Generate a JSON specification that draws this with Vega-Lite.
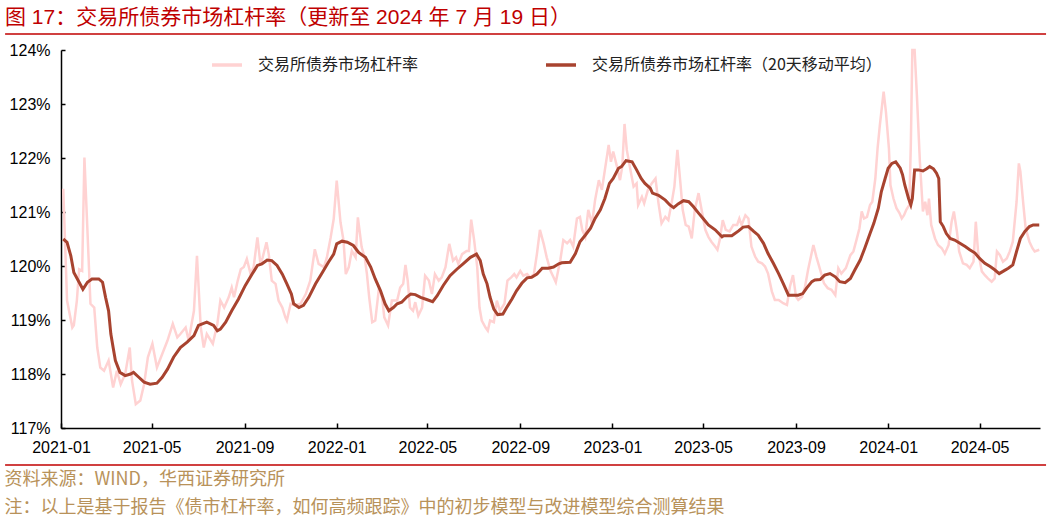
{
  "$schema": "https://vega.github.io/schema/vega-lite/v6.json",
  "autosize": {"type": "none"},
  "padding": {"left": 61, "top": 50, "right": 13, "bottom": 95},
  "width": 979,
  "height": 378,
  "background": "white",
  "config": {"view": {"stroke": null}},
  "title": {
    "text": "图 17：交易所债券市场杠杆率（更新至 2024 年 7 月 19 日）",
    "anchor": "start", "frame": "group", "dx": -56, "offset": 3,
    "font": "Liberation Sans, Noto Sans CJK SC", "fontSize": 21, "fontWeight": "normal", "color": "#C00000"
  },
  "datasets": {
    "raw": [
      {"d":"2021-01-04","v":121.43},{"d":"2021-01-09","v":119.36},{"d":"2021-01-16","v":118.86},{"d":"2021-01-18","v":118.90},{"d":"2021-01-22","v":119.36},{"d":"2021-01-25","v":119.94},{"d":"2021-01-29","v":119.91},{"d":"2021-02-01","v":122.01},{"d":"2021-02-09","v":119.30},{"d":"2021-02-14","v":119.23},{"d":"2021-02-18","v":118.49},{"d":"2021-02-22","v":118.12},{"d":"2021-02-27","v":118.06},{"d":"2021-03-05","v":118.25},{"d":"2021-03-11","v":117.75},{"d":"2021-03-16","v":118.06},{"d":"2021-03-21","v":117.81},{"d":"2021-03-27","v":118.00},{"d":"2021-04-02","v":118.49},{"d":"2021-04-05","v":117.88},{"d":"2021-04-10","v":117.44},{"d":"2021-04-16","v":117.51},{"d":"2021-04-21","v":117.81},{"d":"2021-04-26","v":118.31},{"d":"2021-05-02","v":118.56},{"d":"2021-05-08","v":118.12},{"d":"2021-05-15","v":118.37},{"d":"2021-05-22","v":118.62},{"d":"2021-05-29","v":118.93},{"d":"2021-06-04","v":118.68},{"d":"2021-06-08","v":118.74},{"d":"2021-06-15","v":118.86},{"d":"2021-06-19","v":118.62},{"d":"2021-06-26","v":119.17},{"d":"2021-06-30","v":120.19},{"d":"2021-07-05","v":118.86},{"d":"2021-07-09","v":118.49},{"d":"2021-07-13","v":118.74},{"d":"2021-07-21","v":118.56},{"d":"2021-07-27","v":118.93},{"d":"2021-07-31","v":119.36},{"d":"2021-08-05","v":119.23},{"d":"2021-08-11","v":119.42},{"d":"2021-08-15","v":119.60},{"d":"2021-08-18","v":119.42},{"d":"2021-08-23","v":119.73},{"d":"2021-08-27","v":119.94},{"d":"2021-08-31","v":119.98},{"d":"2021-09-04","v":120.13},{"d":"2021-09-09","v":119.85},{"d":"2021-09-13","v":119.98},{"d":"2021-09-18","v":120.53},{"d":"2021-09-22","v":120.04},{"d":"2021-09-25","v":120.16},{"d":"2021-09-30","v":120.44},{"d":"2021-10-03","v":120.22},{"d":"2021-10-07","v":119.73},{"d":"2021-10-12","v":119.67},{"d":"2021-10-16","v":119.36},{"d":"2021-10-21","v":119.23},{"d":"2021-10-25","v":119.05},{"d":"2021-10-27","v":118.99},{"d":"2021-11-01","v":119.30},{"d":"2021-11-07","v":119.27},{"d":"2021-11-14","v":119.30},{"d":"2021-11-21","v":119.48},{"d":"2021-11-27","v":119.73},{"d":"2021-12-03","v":120.31},{"d":"2021-12-08","v":120.04},{"d":"2021-12-15","v":119.98},{"d":"2021-12-19","v":120.16},{"d":"2021-12-24","v":120.53},{"d":"2021-12-28","v":120.87},{"d":"2022-01-01","v":121.58},{"d":"2022-01-06","v":120.81},{"d":"2022-01-10","v":120.47},{"d":"2022-01-13","v":119.85},{"d":"2022-01-17","v":119.98},{"d":"2022-01-21","v":120.28},{"d":"2022-01-26","v":120.16},{"d":"2022-01-29","v":120.90},{"d":"2022-02-03","v":120.35},{"d":"2022-02-07","v":120.16},{"d":"2022-02-10","v":119.85},{"d":"2022-02-13","v":119.42},{"d":"2022-02-17","v":118.96},{"d":"2022-02-21","v":118.99},{"d":"2022-02-26","v":119.60},{"d":"2022-03-02","v":119.42},{"d":"2022-03-05","v":119.05},{"d":"2022-03-10","v":118.90},{"d":"2022-03-15","v":119.36},{"d":"2022-03-22","v":119.36},{"d":"2022-03-26","v":119.60},{"d":"2022-03-30","v":119.67},{"d":"2022-04-02","v":120.02},{"d":"2022-04-05","v":119.73},{"d":"2022-04-08","v":119.23},{"d":"2022-04-12","v":119.17},{"d":"2022-04-15","v":119.33},{"d":"2022-04-19","v":119.08},{"d":"2022-04-24","v":119.23},{"d":"2022-04-28","v":119.82},{"d":"2022-05-03","v":119.73},{"d":"2022-05-07","v":119.48},{"d":"2022-05-11","v":119.85},{"d":"2022-05-16","v":119.73},{"d":"2022-05-20","v":119.79},{"d":"2022-05-25","v":119.98},{"d":"2022-05-30","v":120.41},{"d":"2022-06-04","v":120.10},{"d":"2022-06-08","v":120.16},{"d":"2022-06-11","v":120.04},{"d":"2022-06-16","v":120.22},{"d":"2022-06-22","v":120.28},{"d":"2022-06-25","v":120.28},{"d":"2022-06-28","v":120.86},{"d":"2022-07-02","v":120.47},{"d":"2022-07-06","v":119.98},{"d":"2022-07-09","v":119.23},{"d":"2022-07-12","v":118.99},{"d":"2022-07-17","v":118.86},{"d":"2022-07-20","v":118.80},{"d":"2022-07-23","v":118.99},{"d":"2022-07-28","v":118.96},{"d":"2022-08-01","v":119.36},{"d":"2022-08-05","v":119.17},{"d":"2022-08-11","v":119.30},{"d":"2022-08-15","v":119.73},{"d":"2022-08-20","v":119.79},{"d":"2022-08-24","v":119.85},{"d":"2022-08-27","v":119.79},{"d":"2022-09-01","v":119.91},{"d":"2022-09-05","v":119.82},{"d":"2022-09-10","v":119.85},{"d":"2022-09-14","v":119.79},{"d":"2022-09-19","v":119.85},{"d":"2022-09-23","v":120.22},{"d":"2022-09-27","v":120.67},{"d":"2022-10-02","v":120.41},{"d":"2022-10-06","v":120.16},{"d":"2022-10-11","v":119.91},{"d":"2022-10-15","v":119.79},{"d":"2022-10-18","v":119.70},{"d":"2022-10-24","v":120.11},{"d":"2022-10-28","v":120.48},{"d":"2022-11-02","v":120.42},{"d":"2022-11-06","v":120.48},{"d":"2022-11-10","v":120.36},{"d":"2022-11-15","v":120.88},{"d":"2022-11-19","v":120.91},{"d":"2022-11-22","v":120.67},{"d":"2022-11-26","v":120.54},{"d":"2022-11-30","v":121.04},{"d":"2022-12-05","v":120.79},{"d":"2022-12-09","v":121.22},{"d":"2022-12-14","v":121.59},{"d":"2022-12-18","v":121.41},{"d":"2022-12-22","v":121.78},{"d":"2022-12-27","v":122.24},{"d":"2022-12-30","v":121.93},{"d":"2023-01-02","v":122.12},{"d":"2023-01-07","v":121.84},{"d":"2023-01-11","v":121.59},{"d":"2023-01-14","v":121.84},{"d":"2023-01-17","v":122.63},{"d":"2023-01-20","v":122.15},{"d":"2023-01-24","v":121.84},{"d":"2023-01-29","v":121.47},{"d":"2023-02-02","v":121.53},{"d":"2023-02-04","v":121.13},{"d":"2023-02-09","v":121.28},{"d":"2023-02-12","v":121.16},{"d":"2023-02-17","v":121.41},{"d":"2023-02-22","v":121.53},{"d":"2023-02-27","v":121.62},{"d":"2023-03-03","v":121.16},{"d":"2023-03-07","v":120.79},{"d":"2023-03-12","v":120.91},{"d":"2023-03-16","v":120.85},{"d":"2023-03-21","v":121.22},{"d":"2023-03-24","v":121.47},{"d":"2023-03-28","v":122.15},{"d":"2023-04-01","v":121.53},{"d":"2023-04-04","v":121.04},{"d":"2023-04-08","v":120.76},{"d":"2023-04-12","v":120.73},{"d":"2023-04-16","v":120.51},{"d":"2023-04-20","v":121.04},{"d":"2023-04-25","v":121.35},{"d":"2023-04-29","v":121.04},{"d":"2023-05-04","v":120.67},{"d":"2023-05-08","v":120.54},{"d":"2023-05-12","v":120.45},{"d":"2023-05-17","v":120.36},{"d":"2023-05-20","v":120.30},{"d":"2023-05-23","v":120.48},{"d":"2023-05-27","v":120.85},{"d":"2023-05-31","v":120.67},{"d":"2023-06-05","v":120.64},{"d":"2023-06-10","v":120.76},{"d":"2023-06-15","v":120.76},{"d":"2023-06-18","v":120.88},{"d":"2023-06-21","v":120.76},{"d":"2023-06-26","v":120.94},{"d":"2023-06-30","v":120.88},{"d":"2023-07-04","v":120.36},{"d":"2023-07-09","v":120.17},{"d":"2023-07-13","v":120.08},{"d":"2023-07-18","v":120.05},{"d":"2023-07-22","v":119.99},{"d":"2023-07-26","v":119.86},{"d":"2023-07-31","v":119.53},{"d":"2023-08-04","v":119.37},{"d":"2023-08-09","v":119.37},{"d":"2023-08-15","v":119.31},{"d":"2023-08-20","v":119.28},{"d":"2023-08-24","v":119.62},{"d":"2023-08-28","v":119.83},{"d":"2023-09-01","v":119.43},{"d":"2023-09-04","v":119.37},{"d":"2023-09-09","v":119.43},{"d":"2023-09-13","v":119.62},{"d":"2023-09-17","v":119.93},{"d":"2023-09-24","v":120.39},{"d":"2023-09-28","v":120.17},{"d":"2023-10-03","v":119.93},{"d":"2023-10-08","v":119.68},{"d":"2023-10-13","v":119.59},{"d":"2023-10-18","v":119.56},{"d":"2023-10-23","v":119.46},{"d":"2023-10-27","v":119.96},{"d":"2023-10-31","v":119.86},{"d":"2023-11-06","v":119.96},{"d":"2023-11-12","v":120.20},{"d":"2023-11-16","v":120.27},{"d":"2023-11-20","v":120.48},{"d":"2023-11-24","v":120.70},{"d":"2023-11-27","v":121.01},{"d":"2023-11-30","v":120.88},{"d":"2023-12-04","v":120.91},{"d":"2023-12-08","v":121.13},{"d":"2023-12-11","v":121.19},{"d":"2023-12-15","v":121.62},{"d":"2023-12-18","v":122.18},{"d":"2023-12-21","v":122.61},{"d":"2023-12-26","v":123.23},{"d":"2023-12-29","v":122.86},{"d":"2024-01-02","v":122.18},{"d":"2024-01-04","v":121.50},{"d":"2024-01-08","v":121.25},{"d":"2024-01-12","v":121.07},{"d":"2024-01-16","v":120.98},{"d":"2024-01-19","v":120.88},{"d":"2024-01-22","v":120.94},{"d":"2024-01-25","v":121.04},{"d":"2024-01-29","v":121.13},{"d":"2024-01-31","v":122.24},{"d":"2024-02-02","v":124.00},{"d":"2024-02-05","v":124.00},{"d":"2024-02-08","v":123.17},{"d":"2024-02-12","v":121.93},{"d":"2024-02-16","v":121.01},{"d":"2024-02-19","v":121.19},{"d":"2024-02-22","v":120.94},{"d":"2024-02-24","v":121.25},{"d":"2024-02-27","v":120.76},{"d":"2024-03-03","v":120.51},{"d":"2024-03-07","v":120.39},{"d":"2024-03-12","v":120.33},{"d":"2024-03-16","v":120.23},{"d":"2024-03-21","v":120.39},{"d":"2024-03-25","v":120.82},{"d":"2024-03-28","v":121.01},{"d":"2024-04-01","v":120.64},{"d":"2024-04-04","v":120.27},{"d":"2024-04-09","v":120.05},{"d":"2024-04-14","v":120.02},{"d":"2024-04-18","v":119.96},{"d":"2024-04-23","v":120.08},{"d":"2024-04-26","v":120.82},{"d":"2024-04-29","v":120.27},{"d":"2024-05-04","v":119.90},{"d":"2024-05-08","v":119.83},{"d":"2024-05-12","v":119.77},{"d":"2024-05-17","v":119.71},{"d":"2024-05-21","v":119.77},{"d":"2024-05-24","v":120.27},{"d":"2024-05-28","v":120.20},{"d":"2024-06-01","v":120.08},{"d":"2024-06-06","v":120.14},{"d":"2024-06-10","v":120.27},{"d":"2024-06-14","v":120.45},{"d":"2024-06-19","v":121.19},{"d":"2024-06-22","v":121.90},{"d":"2024-06-24","v":121.75},{"d":"2024-06-28","v":121.13},{"d":"2024-07-01","v":120.70},{"d":"2024-07-06","v":120.45},{"d":"2024-07-10","v":120.33},{"d":"2024-07-13","v":120.27},{"d":"2024-07-19","v":120.30}
    ],
    "ma": [
      {"d":"2021-01-04","v":120.50},{"d":"2021-01-09","v":120.44},{"d":"2021-01-14","v":120.19},{"d":"2021-01-18","v":119.88},{"d":"2021-01-25","v":119.70},{"d":"2021-01-30","v":119.57},{"d":"2021-02-05","v":119.70},{"d":"2021-02-11","v":119.76},{"d":"2021-02-20","v":119.76},{"d":"2021-02-25","v":119.70},{"d":"2021-03-01","v":119.42},{"d":"2021-03-05","v":119.17},{"d":"2021-03-08","v":118.74},{"d":"2021-03-11","v":118.49},{"d":"2021-03-14","v":118.25},{"d":"2021-03-20","v":118.03},{"d":"2021-03-27","v":117.97},{"d":"2021-04-03","v":118.00},{"d":"2021-04-07","v":118.03},{"d":"2021-04-14","v":117.94},{"d":"2021-04-21","v":117.85},{"d":"2021-04-29","v":117.81},{"d":"2021-05-08","v":117.83},{"d":"2021-05-15","v":117.94},{"d":"2021-05-22","v":118.09},{"d":"2021-05-30","v":118.31},{"d":"2021-06-08","v":118.49},{"d":"2021-06-17","v":118.59},{"d":"2021-06-26","v":118.71},{"d":"2021-07-02","v":118.90},{"d":"2021-07-13","v":118.96},{"d":"2021-07-22","v":118.90},{"d":"2021-07-27","v":118.80},{"d":"2021-07-31","v":118.83},{"d":"2021-08-07","v":118.96},{"d":"2021-08-15","v":119.17},{"d":"2021-08-24","v":119.39},{"d":"2021-09-02","v":119.64},{"d":"2021-09-11","v":119.85},{"d":"2021-09-18","v":120.01},{"d":"2021-09-24","v":120.04},{"d":"2021-10-01","v":120.11},{"d":"2021-10-07","v":120.10},{"d":"2021-10-14","v":120.01},{"d":"2021-10-21","v":119.85},{"d":"2021-10-27","v":119.67},{"d":"2021-11-02","v":119.48},{"d":"2021-11-05","v":119.30},{"d":"2021-11-12","v":119.23},{"d":"2021-11-18","v":119.27},{"d":"2021-11-25","v":119.42},{"d":"2021-12-04","v":119.67},{"d":"2021-12-13","v":119.88},{"d":"2021-12-21","v":120.07},{"d":"2021-12-28","v":120.22},{"d":"2022-01-01","v":120.41},{"d":"2022-01-08","v":120.46},{"d":"2022-01-15","v":120.44},{"d":"2022-01-23","v":120.38},{"d":"2022-01-30","v":120.25},{"d":"2022-02-08","v":120.16},{"d":"2022-02-15","v":119.98},{"d":"2022-02-21","v":119.76},{"d":"2022-02-28","v":119.54},{"d":"2022-03-06","v":119.30},{"d":"2022-03-11","v":119.17},{"d":"2022-03-17","v":119.23},{"d":"2022-03-22","v":119.30},{"d":"2022-03-28","v":119.33},{"d":"2022-04-04","v":119.43},{"d":"2022-04-09","v":119.48},{"d":"2022-04-15","v":119.47},{"d":"2022-04-22","v":119.42},{"d":"2022-04-30","v":119.38},{"d":"2022-05-08","v":119.34},{"d":"2022-05-14","v":119.45},{"d":"2022-05-22","v":119.64},{"d":"2022-05-31","v":119.82},{"d":"2022-06-09","v":119.94},{"d":"2022-06-18","v":120.05},{"d":"2022-06-27","v":120.16},{"d":"2022-07-05","v":120.22},{"d":"2022-07-10","v":120.10},{"d":"2022-07-14","v":119.85},{"d":"2022-07-19","v":119.67},{"d":"2022-07-23","v":119.42},{"d":"2022-07-28","v":119.20},{"d":"2022-08-02","v":119.10},{"d":"2022-08-09","v":119.11},{"d":"2022-08-14","v":119.23},{"d":"2022-08-21","v":119.39},{"d":"2022-08-27","v":119.54},{"d":"2022-09-03","v":119.68},{"d":"2022-09-10","v":119.78},{"d":"2022-09-16","v":119.79},{"d":"2022-09-23","v":119.85},{"d":"2022-09-30","v":119.96},{"d":"2022-10-08","v":119.96},{"d":"2022-10-15","v":119.98},{"d":"2022-10-22","v":120.04},{"d":"2022-10-26","v":120.06},{"d":"2022-11-06","v":120.07},{"d":"2022-11-13","v":120.23},{"d":"2022-11-19","v":120.45},{"d":"2022-11-26","v":120.57},{"d":"2022-12-03","v":120.70},{"d":"2022-12-09","v":120.88},{"d":"2022-12-16","v":121.04},{"d":"2022-12-22","v":121.25},{"d":"2022-12-28","v":121.53},{"d":"2023-01-02","v":121.62},{"d":"2023-01-09","v":121.81},{"d":"2023-01-13","v":121.84},{"d":"2023-01-19","v":121.95},{"d":"2023-01-27","v":121.93},{"d":"2023-02-02","v":121.78},{"d":"2023-02-08","v":121.62},{"d":"2023-02-13","v":121.53},{"d":"2023-02-20","v":121.44},{"d":"2023-02-23","v":121.35},{"d":"2023-03-03","v":121.31},{"d":"2023-03-12","v":121.22},{"d":"2023-03-18","v":121.13},{"d":"2023-03-23","v":121.08},{"d":"2023-03-29","v":121.15},{"d":"2023-04-05","v":121.21},{"d":"2023-04-12","v":121.19},{"d":"2023-04-18","v":121.10},{"d":"2023-04-25","v":120.98},{"d":"2023-05-01","v":120.88},{"d":"2023-05-08","v":120.76},{"d":"2023-05-17","v":120.67},{"d":"2023-05-26","v":120.54},{"d":"2023-05-28","v":120.56},{"d":"2023-06-08","v":120.56},{"d":"2023-06-17","v":120.65},{"d":"2023-06-23","v":120.72},{"d":"2023-06-30","v":120.73},{"d":"2023-07-07","v":120.64},{"d":"2023-07-13","v":120.57},{"d":"2023-07-20","v":120.42},{"d":"2023-07-26","v":120.23},{"d":"2023-08-02","v":120.05},{"d":"2023-08-09","v":119.86},{"d":"2023-08-15","v":119.68},{"d":"2023-08-22","v":119.46},{"d":"2023-08-29","v":119.46},{"d":"2023-09-04","v":119.46},{"d":"2023-09-10","v":119.49},{"d":"2023-09-15","v":119.59},{"d":"2023-09-22","v":119.71},{"d":"2023-09-26","v":119.74},{"d":"2023-10-03","v":119.75},{"d":"2023-10-09","v":119.83},{"d":"2023-10-16","v":119.86},{"d":"2023-10-23","v":119.80},{"d":"2023-10-29","v":119.71},{"d":"2023-11-05","v":119.69},{"d":"2023-11-12","v":119.77},{"d":"2023-11-18","v":119.93},{"d":"2023-11-25","v":120.11},{"d":"2023-12-01","v":120.33},{"d":"2023-12-08","v":120.60},{"d":"2023-12-13","v":120.79},{"d":"2023-12-19","v":121.07},{"d":"2023-12-23","v":121.38},{"d":"2023-12-28","v":121.62},{"d":"2024-01-01","v":121.81},{"d":"2024-01-06","v":121.90},{"d":"2024-01-11","v":121.93},{"d":"2024-01-17","v":121.81},{"d":"2024-01-20","v":121.69},{"d":"2024-01-23","v":121.50},{"d":"2024-01-28","v":121.25},{"d":"2024-01-31","v":121.13},{"d":"2024-02-02","v":121.25},{"d":"2024-02-05","v":121.78},{"d":"2024-02-10","v":121.78},{"d":"2024-02-16","v":121.76},{"d":"2024-02-21","v":121.80},{"d":"2024-02-25","v":121.84},{"d":"2024-03-01","v":121.80},{"d":"2024-03-05","v":121.72},{"d":"2024-03-08","v":121.62},{"d":"2024-03-10","v":120.82},{"d":"2024-03-14","v":120.73},{"d":"2024-03-18","v":120.60},{"d":"2024-03-23","v":120.51},{"d":"2024-03-29","v":120.48},{"d":"2024-04-05","v":120.42},{"d":"2024-04-12","v":120.36},{"d":"2024-04-18","v":120.30},{"d":"2024-04-25","v":120.24},{"d":"2024-05-01","v":120.14},{"d":"2024-05-08","v":120.05},{"d":"2024-05-15","v":119.99},{"d":"2024-05-21","v":119.93},{"d":"2024-05-27","v":119.86},{"d":"2024-06-01","v":119.90},{"d":"2024-06-08","v":119.96},{"d":"2024-06-14","v":120.02},{"d":"2024-06-19","v":120.27},{"d":"2024-06-24","v":120.51},{"d":"2024-06-30","v":120.64},{"d":"2024-07-06","v":120.73},{"d":"2024-07-11","v":120.76},{"d":"2024-07-19","v":120.76}
    ],
    "frame": [{"d": "2020-10-19"}, {"d": "2024-07-28"}]
  },
  "layer": [
    {
      "data": {"name": "raw"},
      "mark": {"type": "line", "strokeWidth": 2.5, "interpolate": "linear"},
      "encoding": {
        "x": {
          "field": "d", "type": "temporal",
          "scale": {"type": "utc", "domain": [{"year": 2021, "month": 1, "date": 1, "utc": true}, {"year": 2024, "month": 7, "date": 20, "utc": true}]},
          "axis": {
            "values": [
              {"year": 2021, "month": 1, "date": 1, "utc": true}, {"year": 2021, "month": 5, "date": 1, "utc": true}, {"year": 2021, "month": 9, "date": 1, "utc": true},
              {"year": 2022, "month": 1, "date": 1, "utc": true}, {"year": 2022, "month": 5, "date": 1, "utc": true}, {"year": 2022, "month": 9, "date": 1, "utc": true},
              {"year": 2023, "month": 1, "date": 1, "utc": true}, {"year": 2023, "month": 5, "date": 1, "utc": true}, {"year": 2023, "month": 9, "date": 1, "utc": true},
              {"year": 2024, "month": 1, "date": 1, "utc": true}, {"year": 2024, "month": 5, "date": 1, "utc": true}
            ],
            "format": "%Y-%m", "labelFlush": false, "labelOverlap": false,
            "grid": false, "domainColor": "#000000", "domainWidth": 1.5,
            "tickColor": "#000000", "tickSize": -5, "tickWidth": 1.5,
            "labelPadding": 16, "labelFont": "Liberation Sans", "labelFontSize": 16, "labelColor": "#000000",
            "title": ["资料来源：WIND，华西证券研究所", "注：以上是基于报告《债市杠杆率，如何高频跟踪》中的初步模型与改进模型综合测算结果"],
            "titleAnchor": "start", "titleAlign": "left", "titleBaseline": "top",
            "titleX": -57, "titleY": 42, "titleLineHeight": 28,
            "titleFont": "Noto Sans CJK SC", "titleFontSize": 18, "titleFontWeight": "normal", "titleColor": "#B8925A"
          }
        },
        "y": {
          "field": "v", "type": "quantitative",
          "scale": {"domain": [117, 124], "nice": false, "zero": false},
          "axis": {
            "values": [117, 118, 119, 120, 121, 122, 123, 124],
            "labelExpr": "datum.value + '%'",
            "grid": false, "domainColor": "#000000", "domainWidth": 1.5,
            "tickColor": "#000000", "tickSize": -4, "tickWidth": 1.5,
            "labelPadding": 15, "labelFont": "Liberation Sans", "labelFontSize": 16, "labelColor": "#000000",
            "title": null
          }
        },
        "color": {
          "datum": "交易所债券市场杠杆率",
          "scale": {"domain": ["交易所债券市场杠杆率", "交易所债券市场杠杆率（20天移动平均）"], "range": ["#FFD2D2", "#A8432F"]},
          "legend": {
            "orient": "none", "legendX": 149, "legendY": -2, "direction": "horizontal",
            "title": null, "symbolType": "stroke", "symbolSize": 900, "symbolStrokeWidth": 3.5,
            "labelFont": "Noto Sans CJK SC", "labelFontSize": 16, "labelColor": "#222222", "labelLimit": 500,
            "labelOffset": 14, "columnPadding": 120, "padding": 0
          }
        }
      }
    },
    {
      "data": {"name": "ma"},
      "mark": {"type": "line", "strokeWidth": 3, "interpolate": "linear"},
      "encoding": {
        "x": {"field": "d", "type": "temporal"},
        "y": {"field": "v", "type": "quantitative"},
        "color": {"datum": "交易所债券市场杠杆率（20天移动平均）"}
      }
    },
    {
      "data": {"name": "frame"},
      "mark": {"type": "line", "color": "#C00000", "strokeWidth": 1.5, "clip": false},
      "encoding": {
        "x": {"field": "d", "type": "temporal"},
        "y": {"datum": 124.296, "type": "quantitative"}
      }
    },
    {
      "data": {"name": "frame"},
      "mark": {"type": "line", "color": "#C00000", "strokeWidth": 1.5, "clip": false},
      "encoding": {
        "x": {"field": "d", "type": "temporal"},
        "y": {"datum": 116.315, "type": "quantitative"}
      }
    }
  ]
}
